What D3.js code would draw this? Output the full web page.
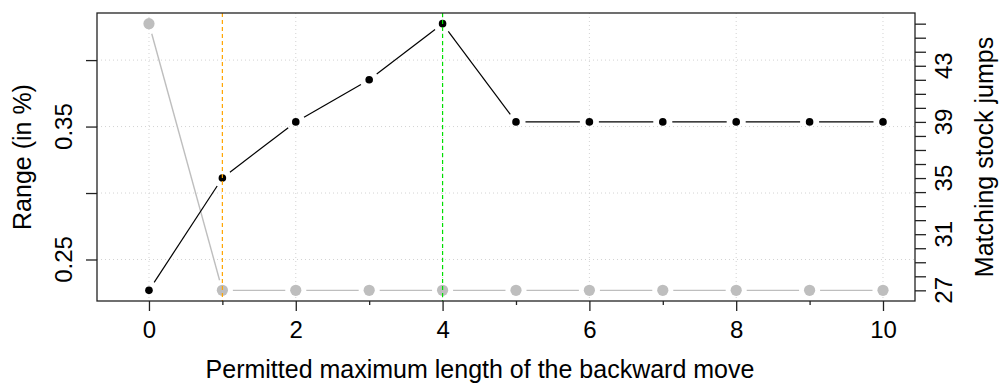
<!DOCTYPE html>
<html>
<head>
<meta charset="utf-8">
<script src="https://cdn.jsdelivr.net/npm/d3@7"></script>
<style>
  html, body { margin: 0; padding: 0; background: #fff; }
  svg { display: block; }
  text { font-family: "Liberation Sans", Arial, Helvetica, sans-serif; fill: #000; }
</style>
</head>
<body>
<svg id="chart" width="1000" height="383"></svg>
<script>
// ---- data ----
const backwardLength = [0, 1, 2, 3, 4, 5, 6, 7, 8, 9, 10];
const rangePct = [0.4274, 0.2268, 0.2268, 0.2268, 0.2268, 0.2268, 0.2268, 0.2268, 0.2268, 0.2268, 0.2268];
const matchingJumps = [27, 35, 39, 42, 46, 39, 39, 39, 39, 39, 39];
const xTicksMajor = [0, 2, 4, 6, 8, 10];
const xTicksMinor = [1, 3, 5, 7, 9];
const leftTicks = [0.25, 0.30, 0.35, 0.40];
const leftTickLabels = ["0.25", "", "0.35", ""];
const rightTicks = d3.range(27, 47);
const rightLabelled = [27, 31, 35, 39, 43];
const markLines = [{x: 1, color: "#FFA500"}, {x: 4, color: "#00E000"}];
const xTitle = "Permitted maximum length of the backward move";
const leftTitle = "Range (in %)";
const rightTitle = "Matching stock jumps";

// ---- layout ----
const L = 97, R = 915, T = 13, B = 301;
const TICK_FS = 24, TITLE_FS = 25;
const svg = d3.select("#chart");

function padded(arr) {
  const mn = d3.min(arr), mx = d3.max(arr), s = mx - mn;
  return [mn - 0.04 * s, mx + 0.04 * s];
}

const x = d3.scaleLinear().domain([-0.708, 10.436]).range([L, R]);
const yL = d3.scaleLinear().domain(padded(rangePct)).range([B, T]);
const yR = d3.scaleLinear().domain(padded(matchingJumps)).range([B, T]);

// grid
const grid = svg.append("g").attr("stroke", "#d3d3d3").attr("stroke-dasharray", "1,3").attr("stroke-width", 1);
xTicksMajor.forEach(v => {
  grid.append("line").attr("x1", x(v)).attr("x2", x(v)).attr("y1", T).attr("y2", B);
});
leftTicks.forEach(v => {
  grid.append("line").attr("x1", L).attr("x2", R).attr("y1", yL(v)).attr("y2", yL(v));
});

// type "b" series: segments with gaps around points
function drawSeries(yScale, vals, color, r, gap, width) {
  const g = svg.append("g");
  const pts = backwardLength.map((d, i) => [x(d), yScale(vals[i])]);
  for (let i = 0; i < pts.length - 1; i++) {
    const [x1, y1] = pts[i], [x2, y2] = pts[i + 1];
    const dx = x2 - x1, dy = y2 - y1, len = Math.hypot(dx, dy);
    if (len <= 2 * gap) continue;
    const ux = dx / len, uy = dy / len;
    g.append("line")
      .attr("x1", x1 + ux * gap).attr("y1", y1 + uy * gap)
      .attr("x2", x2 - ux * gap).attr("y2", y2 - uy * gap)
      .attr("stroke", color).attr("stroke-width", width);
  }
  g.selectAll("circle").data(pts).enter().append("circle")
    .attr("cx", d => d[0]).attr("cy", d => d[1]).attr("r", r).attr("fill", color);
}
drawSeries(yL, rangePct, "#BEBEBE", 5.6, 10.5, 1.4);
drawSeries(yR, matchingJumps, "#000", 3.8, 9.5, 1.2);

// vertical marker lines
markLines.forEach(m => {
  svg.append("line").attr("x1", x(m.x)).attr("x2", x(m.x)).attr("y1", T).attr("y2", B)
    .attr("stroke", m.color).attr("stroke-width", 1.2).attr("stroke-dasharray", "4,3");
});

// box
svg.append("rect").attr("x", L).attr("y", T).attr("width", R - L).attr("height", B - T)
  .attr("fill", "none").attr("stroke", "#222").attr("stroke-width", 1.3);

// bottom axis
const xAxis = svg.append("g").attr("transform", `translate(0,${B})`)
  .call(d3.axisBottom(x).tickValues(xTicksMajor).tickSize(10).tickPadding(10).tickFormat(d3.format("d")));
xAxis.select(".domain").remove();
xAxis.selectAll("text").attr("font-size", TICK_FS).attr("font-family", "Liberation Sans, Arial, sans-serif").attr("fill", "#000").attr("dy", null).attr("y", 37);
xAxis.selectAll("line").attr("stroke", "#222").attr("stroke-width", 1.3);
const xMinor = svg.append("g").attr("transform", `translate(0,${B})`)
  .call(d3.axisBottom(x).tickValues(xTicksMinor).tickSize(4).tickFormat(""));
xMinor.select(".domain").remove();
xMinor.selectAll("line").attr("stroke", "#222").attr("stroke-width", 1.3);

// left axis
const lAxis = svg.append("g").attr("transform", `translate(${L},0)`)
  .call(d3.axisLeft(yL).tickValues(leftTicks).tickSize(11).tickFormat(""));
lAxis.select(".domain").remove();
lAxis.selectAll("line").attr("stroke", "#222").attr("stroke-width", 1.3);
leftTicks.forEach((v, i) => {
  if (!leftTickLabels[i]) return;
  svg.append("text").attr("transform", `translate(72,${yL(v)}) rotate(-90)`)
    .attr("text-anchor", "middle").attr("font-size", TICK_FS).text(leftTickLabels[i]);
});

// right axis
const rAxis = svg.append("g").attr("transform", `translate(${R},0)`)
  .call(d3.axisRight(yR).tickValues(rightTicks).tickSize(11).tickFormat(""));
rAxis.select(".domain").remove();
rAxis.selectAll("line").attr("stroke", "#222").attr("stroke-width", 1.3);
rightLabelled.forEach(v => {
  svg.append("text").attr("transform", `translate(952,${yR(v)}) rotate(-90)`)
    .attr("text-anchor", "middle").attr("font-size", TICK_FS).text(v);
});

// titles
svg.append("text").attr("x", (L + R) / 2 - 26).attr("y", 378).attr("text-anchor", "middle")
  .attr("font-size", TITLE_FS).text(xTitle);
svg.append("text").attr("transform", `translate(31,${(T + B) / 2}) rotate(-90)`)
  .attr("text-anchor", "middle").attr("font-size", TITLE_FS).text(leftTitle);
svg.append("text").attr("transform", `translate(993,${(T + B) / 2}) rotate(-90)`)
  .attr("text-anchor", "middle").attr("font-size", TITLE_FS).text(rightTitle);
</script>
</body>
</html>
